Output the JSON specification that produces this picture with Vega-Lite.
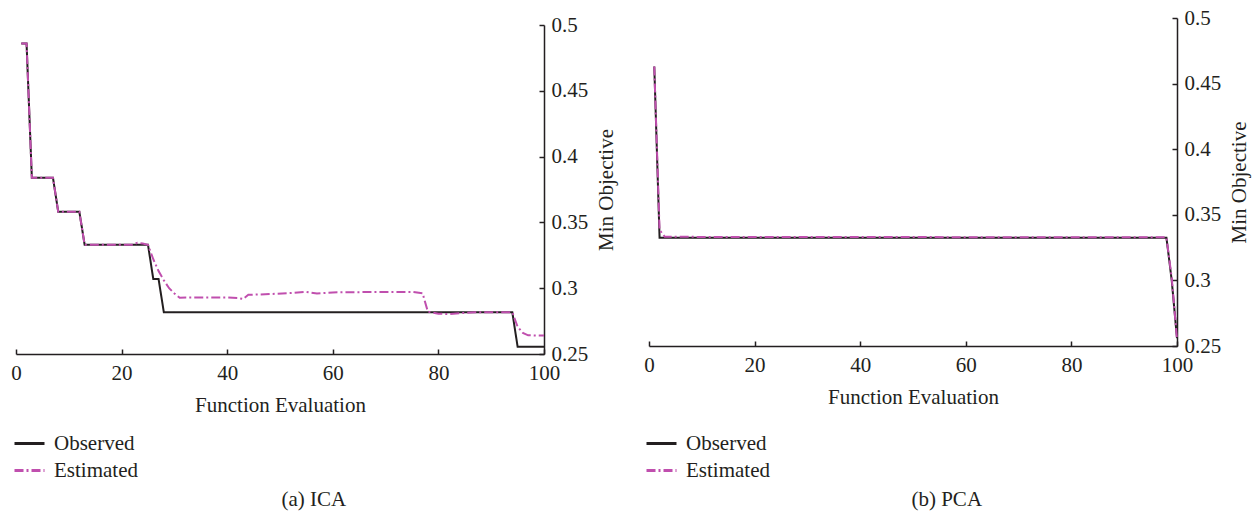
{
  "$schema": "https://vega.github.io/schema/vega-lite/v6.json",
  "background": "white",
  "padding": {"left": 10, "top": 7, "right": 5, "bottom": 5},
  "config": {
    "font": "Liberation Serif",
    "view": {"stroke": null},
    "axis": {
      "grid": false, "labelFlush": false,
      "domainColor": "#231f20", "domainWidth": 1.5,
      "tickColor": "#231f20", "tickWidth": 1.5, "tickSize": -5,
      "labelFont": "Liberation Serif", "labelFontSize": 21, "labelColor": "#231f20",
      "titleFont": "Liberation Serif", "titleFontSize": 21, "titleFontWeight": "normal", "titleColor": "#231f20"
    },
    "legend": {
      "labelFont": "Liberation Serif", "labelFontSize": 21, "labelColor": "#231f20"
    },
    "title": {"font": "Liberation Serif", "fontSize": 21, "fontWeight": "normal", "color": "#231f20"}
  },
  "datasets": {
    "ica": [
      {"x": 1, "v": 0.486, "series": "Observed"},
      {"x": 2, "v": 0.486, "series": "Observed"},
      {"x": 3, "v": 0.384, "series": "Observed"},
      {"x": 7, "v": 0.384, "series": "Observed"},
      {"x": 8, "v": 0.358, "series": "Observed"},
      {"x": 12, "v": 0.358, "series": "Observed"},
      {"x": 13, "v": 0.333, "series": "Observed"},
      {"x": 25, "v": 0.333, "series": "Observed"},
      {"x": 26, "v": 0.307, "series": "Observed"},
      {"x": 27, "v": 0.307, "series": "Observed"},
      {"x": 28, "v": 0.2817, "series": "Observed"},
      {"x": 94, "v": 0.2817, "series": "Observed"},
      {"x": 95, "v": 0.2556, "series": "Observed"},
      {"x": 100, "v": 0.2556, "series": "Observed"},
      {"x": 1, "v": 0.486, "series": "Estimated"},
      {"x": 2, "v": 0.486, "series": "Estimated"},
      {"x": 3, "v": 0.384, "series": "Estimated"},
      {"x": 7, "v": 0.384, "series": "Estimated"},
      {"x": 8, "v": 0.358, "series": "Estimated"},
      {"x": 12, "v": 0.358, "series": "Estimated"},
      {"x": 13, "v": 0.333, "series": "Estimated"},
      {"x": 22, "v": 0.333, "series": "Estimated"},
      {"x": 23, "v": 0.3345, "series": "Estimated"},
      {"x": 24, "v": 0.334, "series": "Estimated"},
      {"x": 25, "v": 0.333, "series": "Estimated"},
      {"x": 26, "v": 0.322, "series": "Estimated"},
      {"x": 27, "v": 0.313, "series": "Estimated"},
      {"x": 28, "v": 0.306, "series": "Estimated"},
      {"x": 29, "v": 0.3, "series": "Estimated"},
      {"x": 30, "v": 0.296, "series": "Estimated"},
      {"x": 31, "v": 0.2928, "series": "Estimated"},
      {"x": 35, "v": 0.293, "series": "Estimated"},
      {"x": 40, "v": 0.293, "series": "Estimated"},
      {"x": 42, "v": 0.2925, "series": "Estimated"},
      {"x": 43, "v": 0.2918, "series": "Estimated"},
      {"x": 44, "v": 0.295, "series": "Estimated"},
      {"x": 48, "v": 0.2955, "series": "Estimated"},
      {"x": 52, "v": 0.2963, "series": "Estimated"},
      {"x": 55, "v": 0.2972, "series": "Estimated"},
      {"x": 57, "v": 0.296, "series": "Estimated"},
      {"x": 60, "v": 0.2968, "series": "Estimated"},
      {"x": 65, "v": 0.297, "series": "Estimated"},
      {"x": 70, "v": 0.2972, "series": "Estimated"},
      {"x": 75, "v": 0.2972, "series": "Estimated"},
      {"x": 77, "v": 0.2962, "series": "Estimated"},
      {"x": 78, "v": 0.2822, "series": "Estimated"},
      {"x": 80, "v": 0.2806, "series": "Estimated"},
      {"x": 82, "v": 0.2804, "series": "Estimated"},
      {"x": 85, "v": 0.2812, "series": "Estimated"},
      {"x": 87, "v": 0.2817, "series": "Estimated"},
      {"x": 94, "v": 0.2817, "series": "Estimated"},
      {"x": 95, "v": 0.2707, "series": "Estimated"},
      {"x": 96, "v": 0.266, "series": "Estimated"},
      {"x": 97, "v": 0.2642, "series": "Estimated"},
      {"x": 100, "v": 0.264, "series": "Estimated"}
    ],
    "pca": [
      {"x": 1, "v": 0.463, "series": "Observed"},
      {"x": 2, "v": 0.3326, "series": "Observed"},
      {"x": 98, "v": 0.3326, "series": "Observed"},
      {"x": 99, "v": 0.3, "series": "Observed"},
      {"x": 100, "v": 0.256, "series": "Observed"},
      {"x": 1, "v": 0.463, "series": "Estimated"},
      {"x": 2, "v": 0.3385, "series": "Estimated"},
      {"x": 3, "v": 0.3332, "series": "Estimated"},
      {"x": 98, "v": 0.3328, "series": "Estimated"},
      {"x": 99, "v": 0.302, "series": "Estimated"},
      {"x": 100, "v": 0.255, "series": "Estimated"}
    ]
  },
  "spacing": 26,
  "hconcat": [
    {
      "width": 528, "height": 336,
      "title": {"text": "(a)  ICA", "orient": "bottom", "anchor": "middle", "frame": "bounds", "offset": 8},
      "data": {"name": "ica"},
      "encoding": {
        "x": {"field": "x", "type": "quantitative", "scale": {"domain": [0, 100], "nice": false, "zero": false},
              "axis": {"values": [0, 20, 40, 60, 80, 100], "title": "Function Evaluation", "labelPadding": 13, "titlePadding": 11}},
        "y": {"field": "v", "type": "quantitative", "scale": {"domain": [0.25, 0.5], "range": [336, 7], "nice": false, "zero": false},
              "axis": {"orient": "right", "values": [0.25, 0.3, 0.35, 0.4, 0.45, 0.5], "format": ".2~f", "title": "Min Objective", "titleAngle": 270, "titleBaseline": "top", "labelPadding": 12, "titlePadding": 8}},
        "color": {"field": "series", "type": "nominal", "scale": {"domain": ["Observed", "Estimated"], "range": ["#231f20", "#c04fae"]},
                  "legend": {"title": null, "orient": "none", "legendX": -3, "legendY": 409, "direction": "vertical", "symbolType": "stroke", "symbolSize": 900, "symbolStrokeWidth": 3, "labelOffset": 8, "rowPadding": -4, "padding": 0}},
        "strokeDash": {"field": "series", "type": "nominal", "scale": {"domain": ["Observed", "Estimated"], "range": [[1, 0], [9, 3, 2, 3]]},
                  "legend": {"title": null, "orient": "none", "legendX": -3, "legendY": 409, "direction": "vertical", "symbolType": "stroke", "symbolSize": 900, "symbolStrokeWidth": 3, "labelOffset": 8, "rowPadding": -4, "padding": 0}}
      },
      "layer": [
        {"transform": [{"filter": "datum.series === 'Observed'"}], "mark": {"type": "line", "strokeWidth": 2}},
        {"transform": [{"filter": "datum.series === 'Estimated'"}], "mark": {"type": "line", "strokeWidth": 2}}
      ]
    },
    {
      "width": 528, "height": 328,
      "title": {"text": "(b)  PCA", "orient": "bottom", "anchor": "middle", "frame": "bounds", "offset": 8},
      "data": {"name": "pca"},
      "encoding": {
        "x": {"field": "x", "type": "quantitative", "scale": {"domain": [0, 100], "nice": false, "zero": false},
              "axis": {"values": [0, 20, 40, 60, 80, 100], "title": "Function Evaluation", "labelPadding": 13, "titlePadding": 11}},
        "y": {"field": "v", "type": "quantitative", "scale": {"domain": [0.25, 0.5], "nice": false, "zero": false},
              "axis": {"orient": "right", "values": [0.25, 0.3, 0.35, 0.4, 0.45, 0.5], "format": ".2~f", "title": "Min Objective", "titleAngle": 270, "titleBaseline": "top", "labelPadding": 12, "titlePadding": 8}},
        "color": {"field": "series", "type": "nominal", "scale": {"domain": ["Observed", "Estimated"], "range": ["#231f20", "#c04fae"]},
                  "legend": {"title": null, "orient": "none", "legendX": -4, "legendY": 409, "direction": "vertical", "symbolType": "stroke", "symbolSize": 900, "symbolStrokeWidth": 3, "labelOffset": 8, "rowPadding": -4, "padding": 0}},
        "strokeDash": {"field": "series", "type": "nominal", "scale": {"domain": ["Observed", "Estimated"], "range": [[1, 0], [9, 3, 2, 3]]},
                  "legend": {"title": null, "orient": "none", "legendX": -4, "legendY": 409, "direction": "vertical", "symbolType": "stroke", "symbolSize": 900, "symbolStrokeWidth": 3, "labelOffset": 8, "rowPadding": -4, "padding": 0}}
      },
      "layer": [
        {"transform": [{"filter": "datum.series === 'Observed'"}], "mark": {"type": "line", "strokeWidth": 2}},
        {"transform": [{"filter": "datum.series === 'Estimated'"}], "mark": {"type": "line", "strokeWidth": 2}}
      ]
    }
  ],
  "resolve": {
    "scale": {"x": "independent", "y": "independent", "color": "independent", "strokeDash": "independent"},
    "legend": {"color": "independent", "strokeDash": "independent"}
  }
}
